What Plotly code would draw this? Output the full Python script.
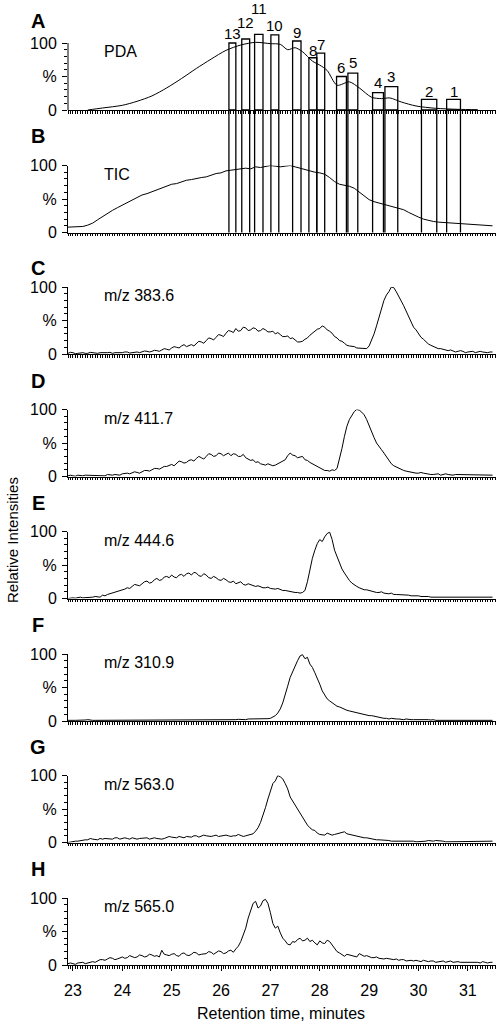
import plotly.graph_objects as go

# ---------------- data ----------------
# sampling grids (minutes)
TIME = [round(22.9 + 0.05 * i, 2) for i in range(173)]
TIC_TIME = [round(22.9 + 0.1 * i, 1) for i in range(87)]

PDA_TIME = [23.3, 23.6, 24.0, 24.3, 24.6, 24.9, 25.2, 25.5, 25.8, 26.1, 26.4, 26.7,
            27.0, 27.2, 27.35, 27.5, 27.65, 27.85, 28.0, 28.15, 28.35, 28.6, 28.8,
            29.05, 29.25, 29.42, 29.65, 29.95, 30.35, 30.8, 31.2]
PDA = [0, 3, 7, 13, 21, 33, 47, 62, 76, 89, 97, 101,
       99, 98, 90, 93, 87, 73, 67, 59, 37, 42, 33,
       19, 17, 18, 12, 6, 2.5, 1, 0.5]

TIC = [8, 8, 8.5, 9, 11, 14, 19, 24, 28, 33,
       37, 41, 44, 49, 52, 56, 58, 61, 64, 66,
       70, 72, 73, 76, 78, 79, 81, 82, 83, 86,
       88, 89, 92, 93, 94, 95, 96, 95, 98, 97,
       99, 100, 99, 98, 99, 100, 98, 96, 94, 91,
       90, 89, 87, 82, 76, 72, 71, 69, 66, 60,
       54, 49, 46, 44, 42, 41, 39, 37, 34, 30,
       26, 23, 20, 18, 16.5, 15.5, 15, 14.5, 14, 13.5,
       13, 12.5, 12, 11.5, 11, 10.5, 10]

MZ_383_6 = [1, 2.5, 2, 0.5, 1, 2, 2, 1, 1, 2.5, 2, 1, 1, 2, 2, 1, 2, 2.5, 1, 2,
            2, 1, 2, 3, 3, 1.5, 2, 3.5, 3, 2, 3, 4.5, 4, 3, 4, 5.5, 5, 4, 6, 8,
            7, 6, 9, 11, 10, 9, 12, 14, 11, 13, 14, 12, 15, 19, 18, 16, 20, 24, 23, 21,
            25, 29, 28, 26, 31, 35, 34, 32, 38, 34, 35, 40, 39, 35, 36, 39, 38, 34, 35, 38,
            36, 33, 33, 34, 30, 32, 29, 26, 26, 27, 23, 24, 21, 18, 18, 19, 22, 24, 28, 31,
            33, 37, 38, 42, 40, 36, 34, 31, 26, 24, 20, 19, 16, 13, 12, 12, 11, 9, 9, 9,
            8, 8, 12, 20, 30, 42, 55, 68, 80, 88, 93, 100, 99, 93, 85, 79, 72, 64, 55, 47,
            40, 36, 30, 25, 22, 18, 15, 13, 11, 10, 8, 8, 7, 5, 5, 6, 5, 3, 4, 5,
            4, 2, 3, 4, 4, 2, 3, 4, 3, 2, 2, 3, 3]

MZ_411_7 = [1, 2, 1, 0.5, 2, 1, 1, 2, 2, 1, 2, 1, 1, 2, 2, 1, 3, 2, 2, 3,
            3, 2, 4, 5, 5, 4, 5, 7, 6, 5, 7, 9, 9, 8, 10, 12, 12, 11, 13, 15,
            15, 17, 18, 16, 19, 23, 22, 20, 21, 24, 25, 23, 27, 30, 28, 26, 30, 34, 33, 30,
            31, 35, 34, 31, 33, 35, 31, 34, 33, 30, 30, 33, 28, 26, 24, 25, 21, 22, 19, 18,
            17, 19, 18, 16, 17, 19, 21, 22, 25, 31, 35, 32, 31, 28, 29, 30, 25, 24, 21, 19,
            17, 14, 12, 10, 9, 9, 8, 10, 9, 12, 25, 42, 60, 75, 85, 92, 97, 100, 99, 96,
            92, 85, 75, 66, 58, 50, 44, 40, 35, 29, 25, 19, 16, 14, 12, 10, 9, 8, 7, 6,
            6, 5, 5, 6, 5, 4, 4, 3, 3, 4, 4, 2, 3, 4, 3, 2, 2, 3, 3, 2,
            2, 3, 3, 2, 2, 3, 3, 2, 2, 3, 3, 2, 2]

MZ_444_6 = [0, 1, 1, 0.5, 1, 2, 1, 1, 2, 1, 2, 3, 3, 2, 5, 4, 6, 7, 8, 9,
            10, 12, 13, 14, 16, 15, 18, 21, 20, 19, 22, 25, 26, 23, 24, 28, 30, 27, 28, 32,
            33, 31, 35, 32, 31, 35, 36, 33, 37, 38, 35, 39, 38, 34, 33, 37, 35, 31, 30, 33,
            31, 28, 27, 30, 28, 25, 24, 26, 22, 23, 25, 21, 20, 22, 21, 19, 18, 19, 17, 16,
            16, 17, 15, 14, 14, 15, 13, 12, 12, 11, 10, 10, 9, 9, 8, 9, 12, 25, 45, 60,
            72, 82, 88, 85, 92, 97, 99, 88, 72, 63, 52, 44, 38, 32, 27, 23, 20, 18, 16, 14,
            13, 13, 12, 10, 10, 9, 9, 10, 8, 7, 7, 8, 6, 6, 6, 5, 5, 6, 5, 4,
            4, 5, 4, 3, 3, 4, 3, 2, 2, 3, 3, 2, 2, 3, 3, 2, 2, 3, 2, 2,
            3, 2, 2, 3, 2, 2, 3, 2, 2, 3, 2, 2, 2]

MZ_310_9 = [1, 1.5, 1, 1, 1, 0.5, 1, 1.5, 2, 1, 1, 1, 1, 1.5, 1, 1, 1, 1.5, 2, 1,
            1, 1, 1, 1.5, 1, 1, 1, 1.5, 2, 1, 1, 1, 1, 1.5, 1, 1, 1, 1.5, 1, 1,
            2, 1, 1, 1.5, 1, 1, 1, 1.5, 2, 1, 1, 1, 1, 1.5, 1, 1, 1, 2, 2, 1,
            1, 2, 2, 1.5, 2, 1, 1, 2, 2, 2.5, 2, 2, 2, 3, 3, 2.5, 3, 3.5, 3, 3,
            3, 3.5, 4, 6, 8, 12, 18, 27, 38, 52, 65, 74, 82, 90, 97, 99, 93, 95, 85, 80,
            72, 64, 55, 45, 38, 33, 30, 27, 25, 22, 21, 19, 17, 16, 15, 14, 13, 12, 11, 11,
            10, 9, 8, 8, 7, 6, 6, 5, 4, 4, 3, 4, 3, 3, 3, 2, 2, 3, 2, 2,
            2, 2, 3, 2, 2, 2, 2, 1.5, 2, 1, 1, 2, 2, 1.5, 1, 1.5, 2, 1, 1, 1.5,
            2, 1, 1, 1.5, 2, 1, 1, 1.5, 1, 1, 2, 1.5, 1]

MZ_563_0 = [0, 1, 1, 2, 2, 3, 3, 4, 4, 6, 5, 4, 4, 6, 5, 6, 6, 5, 5, 7,
            7, 5, 6, 7, 6, 5, 7, 6, 5, 6, 6, 7, 7, 5, 6, 7, 6, 5, 5, 6,
            7, 9, 8, 7, 7, 9, 8, 7, 9, 8, 8, 10, 10, 8, 9, 11, 10, 9, 9, 10,
            11, 9, 10, 11, 11, 10, 9, 10, 10, 12, 11, 9, 10, 11, 12, 13, 17, 22, 30, 40,
            52, 65, 75, 88, 92, 100, 98, 95, 88, 80, 68, 62, 55, 48, 42, 36, 32, 26, 22, 19,
            18, 14, 12, 11, 11, 14, 13, 11, 12, 13, 14, 16, 16, 13, 12, 11, 10, 9, 8, 8,
            7, 7, 6, 6, 5, 4, 4, 4, 3, 3, 3, 2, 2, 3, 3, 2, 2, 3, 2, 2,
            2, 1, 1, 2, 2, 2, 3, 2, 2, 3, 3, 2, 2, 1, 1, 2, 2, 1, 2, 2,
            1, 2, 2, 1, 1, 2, 2, 1, 1, 2, 2, 1, 2]

MZ_565_0 = [2, 3, 2, 1, 3, 4, 4, 2, 3, 5, 5, 4, 6, 8, 8, 7, 9, 11, 10, 8,
            9, 11, 12, 10, 11, 14, 13, 11, 12, 15, 14, 12, 13, 16, 15, 13, 14, 12, 22, 16,
            15, 14, 16, 17, 14, 13, 17, 18, 15, 14, 16, 19, 18, 15, 16, 17, 17, 20, 19, 16,
            18, 21, 20, 17, 18, 21, 22, 19, 24, 28, 35, 44, 55, 70, 80, 92, 95, 85, 88, 96,
            98, 92, 78, 62, 55, 58, 48, 40, 36, 31, 30, 35, 34, 38, 40, 36, 37, 40, 35, 37,
            33, 30, 36, 33, 32, 37, 35, 30, 25, 20, 18, 15, 13, 16, 15, 14, 14, 12, 17, 15,
            13, 14, 12, 11, 11, 12, 10, 9, 9, 10, 9, 8, 8, 9, 7, 8, 8, 6, 7, 7,
            6, 7, 6, 5, 7, 6, 5, 6, 6, 4, 5, 6, 6, 4, 5, 6, 4, 5, 5, 4,
            4, 5, 5, 4, 4, 5, 4, 3, 5, 4, 3, 4, 4]

# fraction collection windows (panel A)
BAR_LABELS = ['13', '12', '11', '10', '9', '8', '7', '6', '5', '4', '3', '2', '1']
BAR_START = [26.16, 26.42, 26.68, 27.01, 27.45, 27.78, 27.94, 28.34, 28.57, 29.07, 29.32, 30.06, 30.57]
BAR_END = [26.30, 26.58, 26.85, 27.17, 27.62, 27.94, 28.10, 28.54, 28.77, 29.29, 29.58, 30.37, 30.85]
BAR_HEIGHT = [100, 106, 113, 112, 103, 78, 85, 50, 55, 26, 35, 16, 16]

PANEL_LETTERS = ['A', 'B', 'C', 'D', 'E', 'F', 'G', 'H']
PANEL_NAMES = ['PDA', 'TIC', 'm/z 383.6', 'm/z 411.7', 'm/z 444.6', 'm/z 310.9', 'm/z 563.0', 'm/z 565.0']
PEAK_LABELS = [None, None, '(4,6,0)<sup>3-</sup>', '(6,8,0)<sup>4-</sup>', '(8,11,0)<sup>5-</sup>',
               '(10,14,0)<sup>9-</sup>', '(12,17,0)<sup>6-</sup>', '(14,20,0)<sup>7-</sup>']
SERIES = [None, TIC, MZ_383_6, MZ_411_7, MZ_444_6, MZ_310_9, MZ_563_0, MZ_565_0]

X_TICK_LABELS = ['23', '24', '25', '26', '27', '28', '29', '30', '31']

# ---------------- layout / style ----------------
W, H = 500, 1024
FONT = 'Liberation Sans, Arial, Helvetica, sans-serif'
X_LEFT_PX, X_RIGHT_PX = 68, 496
X_RANGE = [22.9, 31.57]
ZERO_PX = [110, 232.5, 354, 476.5, 598.5, 721, 842.5, 965]
SPAN_PX = 67  # pixels for 100 %
LETTER_Y_PX = [21, 136, 268, 381, 503, 625, 747, 869]
PEAK_LABEL_X = [None, None, 29.07, 28.36, 27.55, 27.03, 26.62, 26.22]
PEAK_LABEL_Y = [None, None, 110, 119, 121, 118, 118, 118]
BAR_LABEL_SHIFT = [10, 16, 26, 9, 8, 7, 9, 9, 11, 10, 10, 8, 8]


def py(px):
    return 1 - px / H


def ax_name(kind, i):
    return kind if i == 0 else f'{kind}{i + 1}'


major_x = [round(23 + 0.25 * k, 2) for k in range(35)]
minor_x = [round(22.9 + 0.05 * k, 2) for k in range(174)]
major_text_bottom = [X_TICK_LABELS[int(v) - 23] if abs(v - round(v)) < 1e-6 else '' for v in major_x]

fig = go.Figure()
layout = dict(
    width=W, height=H, margin=dict(l=0, r=0, t=0, b=0, autoexpand=False),
    paper_bgcolor='white', plot_bgcolor='white', showlegend=False,
    font=dict(family=FONT, size=16, color='black'), hovermode=False,
)

annotations = []
shapes = []

for i in range(8):
    xa, ya = ax_name('x', i), ax_name('y', i)
    ymax = 120 if i == 0 else 100
    zero = ZERO_PX[i]
    top = zero - SPAN_PX * ymax / 100
    bottom_panel = (i == 7)
    layout['xaxis' if i == 0 else f'xaxis{i + 1}'] = dict(
        domain=[X_LEFT_PX / W, X_RIGHT_PX / W], range=X_RANGE, anchor=ya,
        showline=True, linecolor='black', linewidth=1, showgrid=False, zeroline=False,
        ticks='outside', ticklen=5, tickwidth=1, tickcolor='black',
        tickmode='array', tickvals=major_x,
        ticktext=major_text_bottom if bottom_panel else [''] * len(major_x),
        showticklabels=bottom_panel, tickfont=dict(size=16, family=FONT),
        ticklabelstandoff=6, automargin=False,
        minor=dict(ticks='outside', ticklen=2.5, tickwidth=1, tickcolor='black',
                   tickmode='array', tickvals=minor_x),
        matches=None if i == 0 else 'x', fixedrange=True,
    )
    layout['yaxis' if i == 0 else f'yaxis{i + 1}'] = dict(
        domain=[py(zero), py(top)], range=[0, ymax], anchor=xa,
        showline=(i != 0), linecolor='black', linewidth=1, showgrid=False, zeroline=False,
        ticks='outside', ticklen=5, tickwidth=1, tickcolor='black',
        tickmode='array', tickvals=[0, 50, 100], ticktext=['0', '%', '100'],
        tickfont=dict(size=16, family=FONT), ticklabelstandoff=2, automargin=False,
        minor=dict(ticks='outside', ticklen=3, tickwidth=1, tickcolor='black',
                   tickmode='array', tickvals=[10, 20, 30, 40, 60, 70, 80, 90]),
        fixedrange=True,
    )
    annotations.append(dict(text=f'<b>{PANEL_LETTERS[i]}</b>', xref='paper', yref='paper',
                            x=38 / W, y=py(LETTER_Y_PX[i]), xanchor='center', yanchor='middle',
                            showarrow=False, font=dict(size=20, family=FONT)))
    annotations.append(dict(text=PANEL_NAMES[i], xref='paper', yref=ya, x=102 / W, y=87,
                            xanchor='left', yanchor='middle', showarrow=False,
                            font=dict(size=16, family=FONT)))
    if PEAK_LABELS[i]:
        annotations.append(dict(text=PEAK_LABELS[i], xref=xa, yref=ya, x=PEAK_LABEL_X[i],
                                y=PEAK_LABEL_Y[i], xanchor='left', yanchor='middle',
                                showarrow=False, font=dict(size=15, family=FONT)))
    if SERIES[i] is not None:
        xs = TIC_TIME if i == 1 else TIME
        fig.add_trace(go.Scatter(x=xs, y=SERIES[i], mode='lines', xaxis=xa, yaxis=ya,
                                 line=dict(color='black', width=1)))

# panel A: PDA trace + fraction bars
fig.add_trace(go.Scatter(x=PDA_TIME, y=PDA, mode='lines', xaxis='x', yaxis='y',
                         line=dict(color='black', width=1, shape='spline', smoothing=0.8)))
widths = [e - s for s, e in zip(BAR_START, BAR_END)]
fig.add_trace(go.Bar(x=BAR_START, y=BAR_HEIGHT, width=widths, offset=0, base=0,
                     xaxis='x', yaxis='y',
                     marker=dict(color='rgba(0,0,0,0)', line=dict(color='black', width=1.3))))
for lab, s, e, h, sh in zip(BAR_LABELS, BAR_START, BAR_END, BAR_HEIGHT, BAR_LABEL_SHIFT):
    annotations.append(dict(text=lab, xref='x', yref='y', x=(s + e) / 2, y=h, yshift=sh,
                            xanchor='center', yanchor='middle', showarrow=False,
                            font=dict(size=15, family=FONT)))
    for edge in (s, e):
        shapes.append(dict(type='line', xref='x', yref='paper', x0=edge, x1=edge,
                           y0=py(ZERO_PX[1]), y1=py(ZERO_PX[0]),
                           line=dict(color='black', width=1.3)))

# y-axis line of panel A (only from 0 to 100)
shapes.append(dict(type='line', xref='x domain', yref='y', x0=0, x1=0, y0=0, y1=100,
                   line=dict(color='black', width=1)))

annotations.append(dict(text='Relative Intensities', xref='paper', yref='paper', x=12 / W,
                        y=py(540), textangle=-90, xanchor='center', yanchor='middle',
                        showarrow=False, font=dict(size=15, family=FONT)))
annotations.append(dict(text='Retention time, minutes', xref='paper', yref='paper', x=281 / W,
                        y=py(1013), xanchor='center', yanchor='middle', showarrow=False,
                        font=dict(size=16, family=FONT)))

layout['annotations'] = annotations
layout['shapes'] = shapes
fig.update_layout(**layout)

POST = ("var d=document.getElementById('{plot_id}');"
        "d.style.position='fixed';d.style.top='0px';d.style.left='0px';"
        "document.documentElement.style.margin='0';document.documentElement.style.overflow='hidden';"
        "document.body.style.margin='0';document.body.style.overflow='hidden';")
fig.write_html('out.html', config={'displayModeBar': False}, post_script=POST)
